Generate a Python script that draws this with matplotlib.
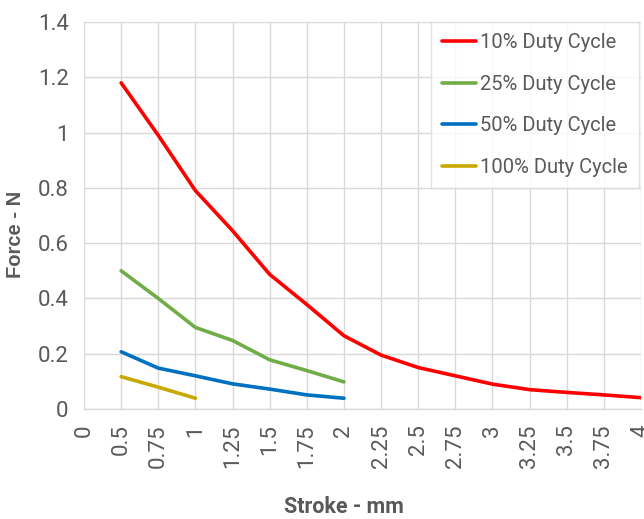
import numpy as np
import matplotlib
matplotlib.use('Agg')
import matplotlib.pyplot as plt

# stroke categories (excel style category axis)
stroke = ['0', '0.5', '0.75', '1', '1.25', '1.5', '1.75', '2', '2.25',
          '2.5', '2.75', '3', '3.25', '3.5', '3.75', '4']

force_10 = [1.18, 0.99, 0.79, 0.645, 0.487, 0.378, 0.265, 0.195, 0.15,
            0.12, 0.09, 0.07, 0.06, 0.051, 0.041]
force_25 = [0.50, 0.40, 0.295, 0.248, 0.178, 0.139, 0.098]
force_50 = [0.207, 0.148, 0.12, 0.091, 0.072, 0.051, 0.039]
force_100 = [0.117, 0.079, 0.039]

series = [
    ('10% Duty Cycle', force_10, '#FF0000'),
    ('25% Duty Cycle', force_25, '#70AD47'),
    ('50% Duty Cycle', force_50, '#0070C0'),
    ('100% Duty Cycle', force_100, '#C9A800'),
]

grey = '#595959'
grid = '#D9D9D9'
narrow = ['Roboto', 'DejaVu Sans']

fig = plt.figure(figsize=(6.44, 5.19), dpi=100)
ax = fig.add_axes([84/644, 110/519, 557/644, 387/519])

x = np.arange(len(stroke))
for name, vals, col in series:
    ax.plot(x[1:1 + len(vals)], vals, color=col, lw=2.6, label=name,
            solid_joinstyle='round', solid_capstyle='round')

ax.set_xlim(0, len(stroke) - 1)
ax.set_ylim(0, 1.4)
ax.set_xticks(x)
ax.set_xticklabels(stroke, rotation=90, fontsize=16, color=grey, family=narrow)
ax.set_yticks(np.arange(0, 1.41, 0.2))
ax.set_yticklabels(['0', '0.2', '0.4', '0.6', '0.8', '1', '1.2', '1.4'],
                   fontsize=16, color=grey, family=narrow)
ax.tick_params(axis='both', length=0)
ax.tick_params(axis='x', pad=11)
ax.tick_params(axis='y', pad=11)

ax.grid(True, color=grid, lw=1)
ax.set_axisbelow(True)
for s in ['left', 'right', 'top']:
    ax.spines[s].set_visible(False)
ax.spines['bottom'].set_color(grid)
ax.spines['bottom'].set_linewidth(1)

leg = ax.legend(loc='upper right', bbox_to_anchor=(0.996, 1.0),
                prop={'family': narrow, 'size': 14.5}, frameon=True, fancybox=False,
                handlelength=1.7, handletextpad=0.2, labelspacing=1.12,
                borderpad=0.55, borderaxespad=0.0)
leg.get_frame().set_edgecolor(grid)
leg.get_frame().set_linewidth(1)
for t in leg.get_texts():
    t.set_color(grey)

fig.text(344/644, 1 - 507/519, 'Stroke - mm', ha='center', va='center',
         fontsize=15.5, fontweight='bold', color=grey, family=narrow)
fig.text(16/644, 1 - 234/519, 'Force - N', ha='center', va='center',
         rotation=90, fontsize=14.5, fontweight='bold', color=grey,
         family=['Liberation Sans', 'DejaVu Sans'])

fig.savefig('out.png', dpi=100)
